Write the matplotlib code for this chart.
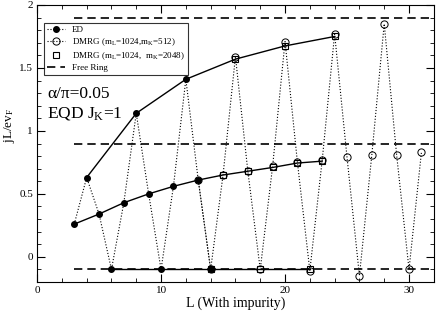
import matplotlib
matplotlib.use("Agg")
import matplotlib.pyplot as plt
from matplotlib.ticker import MultipleLocator
import numpy as np

plt.rcParams['font.family'] = ['Liberation Serif', 'DejaVu Serif']
plt.rcParams['mathtext.fontset'] = 'custom'
plt.rcParams['mathtext.rm'] = 'Liberation Serif'
plt.rcParams['mathtext.it'] = 'Liberation Serif:italic'

# ED data
ed_L = [3, 4, 5, 6, 7, 8, 9, 10, 11, 12, 13, 14]
ed_j = [0.26, 0.63, 0.34, -0.10, 0.43, 1.14, 0.50, -0.10, 0.56, 1.41, 0.61, -0.10]

# DMRG mL=1024, mK=512
d512_L = [13, 14, 15, 16, 17, 18, 19, 20, 21, 22, 23, 24, 25, 26, 27, 28, 29, 30, 31]
d512_j = [0.61, -0.10, 0.65, 1.59, 0.68, -0.10, 0.72, 1.71, 0.75, -0.11, 0.77,
          1.77, 0.79, -0.15, 0.81, 1.85, 0.81, -0.10, 0.83]

# DMRG mL=1024, mK=2048
d2048_L = [14, 15, 16, 17, 18, 19, 20, 21, 22, 23, 24]
d2048_j = [-0.10, 0.65, 1.57, 0.68, -0.10, 0.71, 1.675, 0.745, -0.10, 0.76, 1.75]

# free ring levels
ring_levels = [1.9, 0.9, -0.1]
ring_L = [3, 33]

fig = plt.figure(figsize=(4.36, 3.12), dpi=100)
ax = fig.add_axes([0.085, 0.096, 0.91, 0.888])

# solid lines through each branch (ED + DMRG 2048)
allL = np.array(ed_L + d2048_L)
allj = np.array(ed_j + d2048_j)
_, idx = np.unique(allL, return_index=True)
allL = allL[idx]
allj = allj[idx]
for sel in [allL % 2 == 1, allL % 4 == 0, allL % 4 == 2]:
    ax.plot(allL[sel], allj[sel], '-', color='black', lw=1.0, zorder=2)

# free ring
for i, lev in enumerate(ring_levels):
    ax.plot(ring_L, [lev, lev], '--', color='black', lw=1.2, dashes=(5, 3),
            label='Free Ring' if i == 0 else None, zorder=1)

ax.plot(ed_L, ed_j, ':', color='black', lw=0.8, marker='o', ms=4,
        mfc='black', mec='black', label='ED', zorder=4)
ax.plot(d512_L, d512_j, ':', color='black', lw=0.8, marker='o', ms=5.2,
        mfc='none', mec='black', mew=0.7,
        label='DMRG (m$_\\mathrm{L}$=1024,m$_\\mathrm{K}$=512)', zorder=3)
ax.plot(d2048_L, d2048_j, 's', color='black', ms=5, mfc='none', mec='black',
        mew=0.8, label='DMRG (m$_\\mathrm{L}$=1024,  m$_\\mathrm{K}$=2048)', zorder=3)

handles, labels = ax.get_legend_handles_labels()
want = ['ED', labels[2], labels[3], 'Free Ring']
hmap = dict(zip(labels, handles))
leg = ax.legend([hmap[w] for w in want], want, loc='upper left',
                bbox_to_anchor=(0.017, 0.935), fontsize=6.5, frameon=True,
                fancybox=False, edgecolor='black', handlelength=2.0,
                borderpad=0.35, labelspacing=0.22, handletextpad=0.8,
                borderaxespad=0)
leg.get_frame().set_linewidth(0.8)

ax.text(0.8, 1.26, 'α/π=0.05', fontsize=12.5)
ax.text(0.8, 1.11, 'EQD J$_\\mathrm{K}$=1', fontsize=12.5)

ax.set_xlim(0, 32)
ax.set_ylim(-0.2, 2)
ax.xaxis.set_major_locator(MultipleLocator(10))
ax.xaxis.set_minor_locator(MultipleLocator(2))
ax.yaxis.set_minor_locator(MultipleLocator(0.1))
ax.set_yticks([0, 0.5, 1, 1.5, 2])
ax.set_yticklabels(['0', '0.5', '1', '1.5', '2'])
ax.tick_params(which='both', direction='in', top=True, right=True,
               labelsize=8, pad=3)
ax.tick_params(which='major', length=6)
ax.tick_params(which='minor', length=3)
ax.set_xlabel('L (With impurity)', fontsize=10, labelpad=1)
ax.set_ylabel('jL/ev$_\\mathrm{F}$', fontsize=9.5)
ax.yaxis.set_label_coords(-0.05, 0.565)

fig.savefig('out.png', dpi=100)
